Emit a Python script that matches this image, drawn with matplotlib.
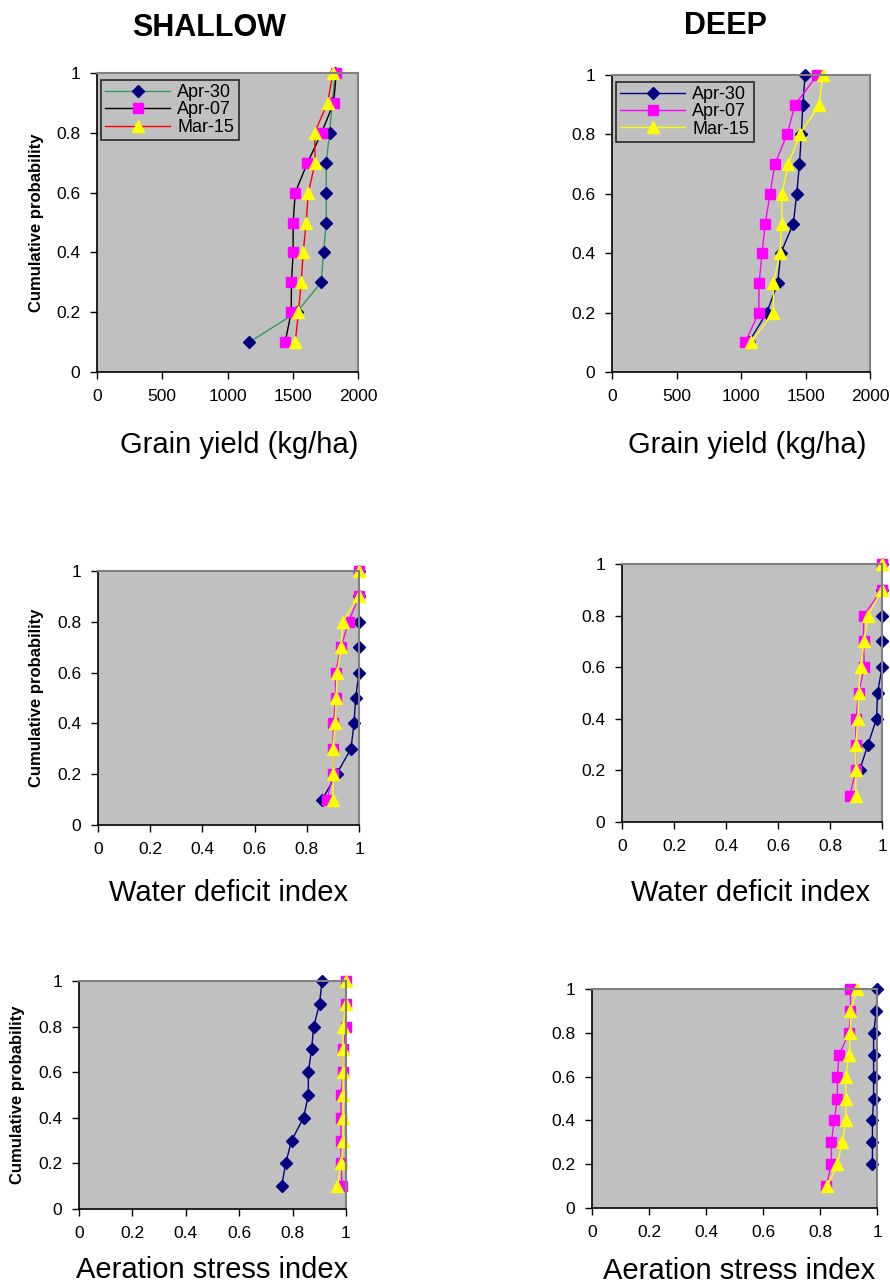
import matplotlib
matplotlib.use("Agg")
import matplotlib.pyplot as plt
import numpy as np
from matplotlib.ticker import FormatStrFormatter

plt.rcParams['font.family'] = ['Liberation Sans', 'DejaVu Sans']

prob = [0.1, 0.2, 0.3, 0.4, 0.5, 0.6, 0.7, 0.8, 0.9, 1.0]
dates = ['Apr-30', 'Apr-07', 'Mar-15']

# grain yield (kg/ha)
yield_shallow_apr30 = [1168, 1531, 1718, 1736, 1757, 1757, 1757, 1782, 1803, 1826]
yield_shallow_apr07 = [1442, 1488, 1490, 1503, 1503, 1519, 1613, 1721, 1813, 1834]
yield_shallow_mar15 = [1519, 1544, 1565, 1580, 1603, 1619, 1672, 1667, 1767, 1808]
yield_deep_apr30 = [1060, 1200, 1285, 1308, 1406, 1432, 1453, 1468, 1479, 1497]
yield_deep_apr07 = [1032, 1138, 1140, 1164, 1187, 1226, 1262, 1357, 1419, 1592]
yield_deep_mar15 = [1076, 1251, 1251, 1303, 1316, 1316, 1367, 1455, 1607, 1633]

# water deficit index
wdi_shallow_apr30 = [0.859, 0.914, 0.969, 0.981, 0.987, 1.0, 1.0, 1.0, 1.0, 1.0]
wdi_shallow_apr07 = [0.878, 0.900, 0.900, 0.902, 0.910, 0.910, 0.931, 0.960, 1.0, 1.0]
wdi_shallow_mar15 = [0.900, 0.900, 0.900, 0.909, 0.912, 0.917, 0.932, 0.937, 1.0, 1.0]
wdi_deep_apr30 = [np.nan, 0.914, 0.946, 0.979, 0.983, 1.0, 1.0, 1.0, 1.0, 1.0]
wdi_deep_apr07 = [0.876, 0.899, 0.899, 0.900, 0.910, 0.932, 0.929, 0.929, 1.0, 1.0]
wdi_deep_mar15 = [0.899, 0.899, 0.899, 0.908, 0.910, 0.918, 0.931, 0.946, 1.0, 1.0]

# aeration stress index
asi_shallow_apr30 = [0.759, 0.774, 0.796, 0.841, 0.859, 0.859, 0.871, 0.879, 0.901, 0.910]
asi_shallow_apr07 = [0.985, 0.981, 0.981, 0.981, 0.981, 0.989, 0.989, 1.0, 1.0, 1.0]
asi_shallow_mar15 = [0.968, 0.983, 0.989, 0.989, 0.989, 0.989, 0.989, 0.989, 0.999, 1.0]
asi_deep_apr30 = [np.nan, 0.984, 0.984, 0.984, 0.988, 0.988, 0.988, 0.988, 0.998, 1.0]
asi_deep_apr07 = [0.822, 0.840, 0.840, 0.850, 0.861, 0.861, 0.867, 0.902, 0.907, 0.907]
asi_deep_mar15 = [0.826, 0.861, 0.878, 0.891, 0.891, 0.891, 0.902, 0.907, 0.907, 0.930]

navy = '#000080'
magenta = '#ff00ff'
yellow = '#ffff00'

W, H = 890, 1285
fig = plt.figure(figsize=(W / 100, H / 100), dpi=100)


def make_axes(left, right, top, bottom):
    return fig.add_axes([left / W, 1 - bottom / H, (right - left) / W, (bottom - top) / H])


def style(ax, xmax, xticks, ylabel_x=None):
    ax.set_facecolor('#c0c0c0')
    ax.set_xlim(0, xmax)
    ax.set_ylim(0, 1)
    ax.set_xticks(xticks)
    ax.set_yticks([0, 0.2, 0.4, 0.6, 0.8, 1])
    ax.xaxis.set_major_formatter(FormatStrFormatter('%g'))
    ax.yaxis.set_major_formatter(FormatStrFormatter('%g'))
    ax.tick_params(direction='out', length=5, width=1, labelsize=12.5, pad=7, colors='black')
    for s in ['top', 'right']:
        ax.spines[s].set_color('#808080')
        ax.spines[s].set_linewidth(1.5)
    for s in ['left', 'bottom']:
        ax.spines[s].set_color('black')
        ax.spines[s].set_linewidth(1.2)
    if ylabel_x is not None:
        ax.set_ylabel('Cumulative probability', fontsize=12, fontweight='bold')
        ax.yaxis.set_label_coords(ylabel_x, 0.5)


def draw(ax, series, line_colors):
    mk = [('D', navy, 6), ('s', magenta, 7.5), ('^', yellow, 8.5)]
    for vals, lc, (m, fc, ms), lab in zip(series, line_colors, mk, dates):
        ax.plot(vals, prob, color=lc, lw=1, marker=m, markersize=ms,
                markerfacecolor=fc, markeredgecolor=fc, label=lab, clip_on=False)


# Row 1: grain yield
ax1 = make_axes(97, 358, 73, 372)
draw(ax1, [yield_shallow_apr30, yield_shallow_apr07, yield_shallow_mar15],
     ['#339966', 'black', 'red'])
style(ax1, 2000, [0, 500, 1000, 1500, 2000], -0.203)

ax2 = make_axes(612, 870, 75, 372)
draw(ax2, [yield_deep_apr30, yield_deep_apr07, yield_deep_mar15],
     [navy, magenta, yellow])
style(ax2, 2000, [0, 500, 1000, 1500, 2000])

for ax in (ax1, ax2):
    leg = ax.legend(loc='upper left', bbox_to_anchor=(0.0, 0.99), fontsize=13,
                    frameon=True, fancybox=False, borderpad=0.25, labelspacing=0.02,
                    handlelength=3.6, handletextpad=0.4, borderaxespad=0.2)
    leg.get_frame().set_facecolor('#c0c0c0')
    leg.get_frame().set_edgecolor('black')
    leg.get_frame().set_linewidth(1.2)

# Row 2: water deficit index
ax3 = make_axes(98, 359, 571, 825)
draw(ax3, [wdi_shallow_apr30, wdi_shallow_apr07, wdi_shallow_mar15], [navy, magenta, yellow])
style(ax3, 1, [0, 0.2, 0.4, 0.6, 0.8, 1], -0.207)

ax4 = make_axes(622, 882, 564, 822)
draw(ax4, [wdi_deep_apr30, wdi_deep_apr07, wdi_deep_mar15], [navy, magenta, yellow])
style(ax4, 1, [0, 0.2, 0.4, 0.6, 0.8, 1])

# Row 3: aeration stress index
ax5 = make_axes(79, 346, 981, 1209)
draw(ax5, [asi_shallow_apr30, asi_shallow_apr07, asi_shallow_mar15], [navy, magenta, yellow])
style(ax5, 1, [0, 0.2, 0.4, 0.6, 0.8, 1], -0.202)

ax6 = make_axes(592, 877, 989, 1208)
draw(ax6, [asi_deep_apr30, asi_deep_apr07, asi_deep_mar15], [navy, magenta, yellow])
style(ax6, 1, [0, 0.2, 0.4, 0.6, 0.8, 1])

# column titles and x labels
fig.text(209 / W, 1 - 28 / H, 'SHALLOW', fontsize=22, fontweight='bold', ha='center', va='center')
fig.text(725 / W, 1 - 26 / H, 'DEEP', fontsize=22, fontweight='bold', ha='center', va='center')

xlabels = [('Grain yield (kg/ha)', 239, 445), ('Grain yield (kg/ha)', 747, 445),
           ('Water deficit index', 229, 893), ('Water deficit index', 751, 893),
           ('Aeration stress index', 212, 1270), ('Aeration stress index', 739, 1271)]
for txt, x, y in xlabels:
    fig.text(x / W, 1 - y / H, txt, fontsize=21, ha='center', va='center')

fig.savefig('out.png', dpi=100)
